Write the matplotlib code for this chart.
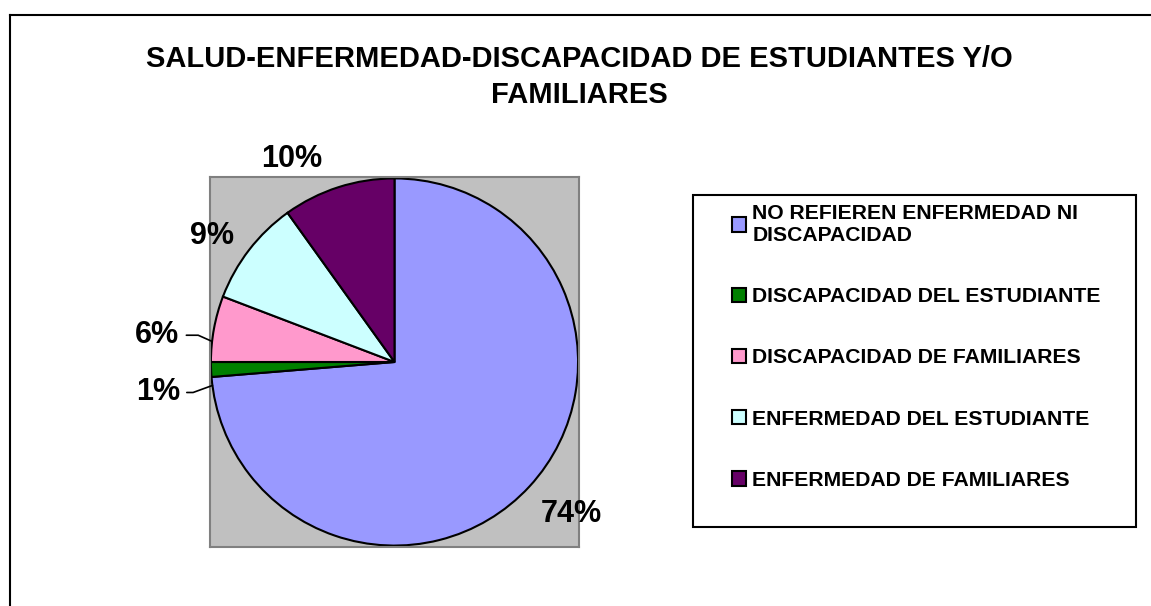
import numpy as np
import matplotlib
matplotlib.use('Agg')
import matplotlib.pyplot as plt
from matplotlib.lines import Line2D
from matplotlib.patches import Rectangle

plt.rcParams['font.family'] = ['Liberation Sans', 'DejaVu Sans']

# datos
categorias = ['NO REFIEREN ENFERMEDAD NI\nDISCAPACIDAD',
              'DISCAPACIDAD DEL ESTUDIANTE',
              'DISCAPACIDAD DE FAMILIARES',
              'ENFERMEDAD DEL ESTUDIANTE',
              'ENFERMEDAD DE FAMILIARES']
porcentajes = [73.7, 1.3, 5.8, 9.3, 9.9]
colores = ['#9999FF', '#008000', '#FF99CC', '#CCFFFF', '#660066']
titulo = 'SALUD-ENFERMEDAD-DISCAPACIDAD DE ESTUDIANTES Y/O\nFAMILIARES'

# posicion de etiquetas: radio y ajuste de angulo (grados)
radios = [1.27, 1.30, 1.30, 1.21, 1.24]
ajustes = [2, 5, 4, 3, 9]
guias = {1: 20, 2: -24}   # etiquetas con linea guia -> angleB

W, H = 1151, 606
fig = plt.figure(figsize=(W / 100, H / 100), dpi=100)


def fx(px):
    return px / W


def fy(py):
    return 1 - py / H


# marco exterior (solo izquierda y arriba)
fig.add_artist(Line2D([fx(10), fx(10)], [fy(15), 0], color='black', lw=1.5,
                      transform=fig.transFigure))
fig.add_artist(Line2D([fx(10), 1], [fy(15), fy(15)], color='black', lw=1.5,
                      transform=fig.transFigure))

fig.text(fx(579), fy(45), titulo, ha='center', va='top', fontsize=21,
         fontweight='bold', linespacing=1.35, multialignment='center')

ax = fig.add_axes([fx(210), fy(547), fx(579) - fx(210), fy(177) - fy(547)])
wedges, _ = ax.pie(porcentajes, colors=colores, startangle=90,
                   counterclock=False, radius=1.0,
                   wedgeprops=dict(edgecolor='black', linewidth=1.5))
ax.set_xlim(-1.005, 1.005)
ax.set_ylim(-1.005, 1.005)
ax.set_frame_on(True)
ax.set_facecolor('#C0C0C0')
for s in ax.spines.values():
    s.set_edgecolor('#808080')
    s.set_linewidth(1.5)
ax.set_xticks([])
ax.set_yticks([])

for i, (w, p) in enumerate(zip(wedges, porcentajes)):
    ang = np.deg2rad((w.theta1 + w.theta2) / 2 + ajustes[i])
    pos = (radios[i] * np.cos(ang), radios[i] * np.sin(ang))
    txt = f'{p:.0f}%'
    if i in guias:
        ax.annotate(txt, xy=(np.cos(ang), np.sin(ang)), xytext=pos,
                    ha='center', va='center', fontsize=22, fontweight='bold',
                    annotation_clip=False,
                    arrowprops=dict(arrowstyle='-', color='black', lw=1.2,
                                    shrinkA=3, shrinkB=0,
                                    connectionstyle=f'angle,angleA=0,angleB={guias[i]},rad=0'))
    else:
        ax.text(pos[0], pos[1], txt, ha='center', va='center', fontsize=22,
                fontweight='bold', clip_on=False)

# leyenda
fig.add_artist(Rectangle((fx(693), fy(527)), fx(1136) - fx(693), fy(195) - fy(527),
                         fill=False, edgecolor='black', lw=1.5,
                         transform=fig.transFigure))
fig.legend(wedges, categorias, loc='upper left', bbox_to_anchor=(fx(732), fy(204)),
           frameon=False, borderpad=0, borderaxespad=0,
           prop=dict(weight='bold', size=15.2), handlelength=0.67,
           handleheight=0.67, handletextpad=0.3, labelspacing=2.0)

fig.savefig('out.png', dpi=100, facecolor='white')
